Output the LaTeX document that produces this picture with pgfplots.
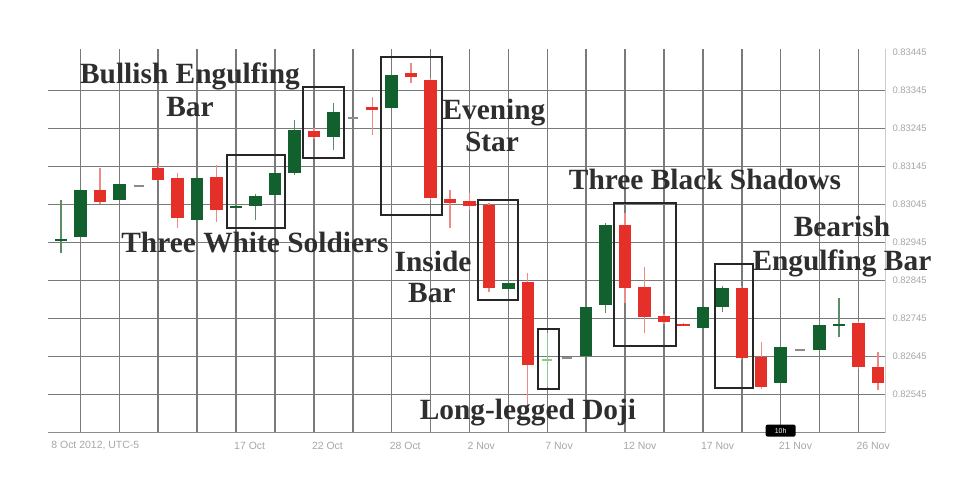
\documentclass[border=0pt]{standalone}
\usepackage{pgfplots}
\pgfplotsset{compat=1.18}
\usepackage{pgfplotstable}
\usepackage{fontspec}
\setmainfont{Liberation Serif}
\newfontfamily\sansf{Liberation Sans}
\definecolor{cgreen}{HTML}{12602D}
\definecolor{cgreenw}{HTML}{5E8C66}
\definecolor{cred}{HTML}{E5302A}
\definecolor{credw}{HTML}{F08A86}
\definecolor{cgray}{HTML}{8C8C8C}
\definecolor{clgreen}{HTML}{8CCB8C}
\newcommand\annfont{\bfseries\fontsize{29.5}{33}\selectfont}

\pgfplotstableread{
x o h l c
0 5.039 6.118 4.724 5.092
1 5.145 6.434 5.092 6.382
3 6.118 6.566 6.092 6.539
7 5.592 6.750 5.539 6.697
9 5.908 6.013 5.855 5.961
10 5.961 6.276 5.592 6.224
11 6.250 6.855 6.197 6.829
12 6.829 8.224 6.776 7.961
14 7.776 8.671 7.434 8.434
17 8.539 9.461 8.487 9.408
23 3.776 3.987 3.724 3.934
27 2.013 3.355 1.987 3.303
28 3.355 5.513 3.145 5.461
33 2.750 3.355 2.697 3.303
34 3.303 3.855 3.171 3.803
37 1.303 2.303 1.250 2.250
39 2.171 2.882 2.118 2.829
40 2.803 3.539 2.513 2.855
}\greendata

\pgfplotstableread{
x o h l c
2 6.382 6.961 6.013 6.066
5 6.961 7.092 6.618 6.645
6 6.697 6.829 5.382 5.645
8 6.724 7.039 5.539 5.855
13 7.934 8.013 7.724 7.776
16 8.566 8.829 7.829 8.487
18 9.461 9.724 9.197 9.355
19 9.276 9.329 6.118 6.171
20 6.145 6.382 5.382 6.039
21 6.092 6.303 5.855 5.961
22 5.987 6.039 3.697 3.803
24 3.961 4.197 0.671 1.776
29 5.461 5.776 3.408 3.803
30 3.829 4.355 2.618 3.039
31 3.066 3.118 2.855 2.908
32 2.850 2.870 2.790 2.790
35 3.803 3.855 1.908 1.961
36 1.987 2.382 1.145 1.197
41 2.882 2.934 1.671 1.724
42 1.724 2.118 1.118 1.303
}\reddata

\pgfplotstableread{
x o h l c
4 6.460 6.520 6.460 6.520
15 8.250 8.310 8.250 8.310
26 1.930 1.990 1.930 1.990
38 2.140 2.200 2.140 2.200
}\graydata

\pgfplotstableread{
x o h l c
25 1.882 2.618 1.197 1.934
}\lgreendata

\begin{document}
\begin{tikzpicture}
\path[use as bounding box] (0,0) rectangle (964bp,486bp);
\begin{axis}[
  at={(48bp,53.5bp)}, anchor=south west,
  scale only axis, width=837bp, height=383.8bp,
  xmin=-0.668, xmax=42.365, ymin=0, ymax=10.1,
  axis x line*=bottom, axis y line*=right,
  x axis line style={draw=black!45, line width=1.3bp},
  y axis line style={draw=black!20, line width=1bp},
  xtick={1,3,...,41}, xticklabels={},
  ytick={1,...,9},
  yticklabels={0.82545,0.82645,0.82745,0.82845,0.82945,0.83045,0.83145,0.83245,0.83345},
  extra y ticks={10}, extra y tick labels={0.83445},
  extra y tick style={grid=none},
  grid=major,
  major grid style={draw=black!52, line width=1.5bp},
  major tick length=0pt,
  tick style={draw=none},
  extra x ticks={-0.4,9,13,17,21,25,29,33,37,41},
  extra x tick labels={{8 Oct 2012, UTC-5},17 Oct,22 Oct,28 Oct,2 Nov,7 Nov,12 Nov,17 Nov,21 Nov,26 Nov},
  extra x tick style={grid=none, xticklabel style={anchor=west, yshift=-13bp, xshift=-2bp, inner sep=0pt}},
  xticklabel style={font=\sansf\fontsize{10.5}{12}\selectfont, text=black!35},
  yticklabel style={font=\sansf\fontsize{9.5}{11}\selectfont, text=black!35, anchor=west, xshift=4bp},
  clip=false,
]
% wicks
\addplot[draw=none, mark=none, forget plot, error bars/.cd, y dir=both, y explicit, error mark=none,
  error bar style={line width=1.3bp, draw=cgreenw}]
  table[x=x, y expr={(\thisrow{h}+\thisrow{l})/2}, y error expr={(\thisrow{h}-\thisrow{l})/2}] {\greendata};
\addplot[draw=none, mark=none, forget plot, error bars/.cd, y dir=both, y explicit, error mark=none,
  error bar style={line width=1.3bp, draw=credw}]
  table[x=x, y expr={(\thisrow{h}+\thisrow{l})/2}, y error expr={(\thisrow{h}-\thisrow{l})/2}] {\reddata};
\addplot[draw=none, mark=none, forget plot, error bars/.cd, y dir=both, y explicit, error mark=none,
  error bar style={line width=1.3bp, draw=clgreen}]
  table[x=x, y expr={(\thisrow{h}+\thisrow{l})/2}, y error expr={(\thisrow{h}-\thisrow{l})/2}] {\lgreendata};
% bodies
\addplot[draw=none, mark=none, forget plot, error bars/.cd, y dir=both, y explicit, error mark=none,
  error bar style={line width=12.5bp, line cap=butt, draw=cgreen}]
  table[x=x, y expr={(\thisrow{o}+\thisrow{c})/2}, y error expr={abs(\thisrow{c}-\thisrow{o})/2}] {\greendata};
\addplot[draw=none, mark=none, forget plot, error bars/.cd, y dir=both, y explicit, error mark=none,
  error bar style={line width=12.5bp, line cap=butt, draw=cred}]
  table[x=x, y expr={(\thisrow{o}+\thisrow{c})/2}, y error expr={abs(\thisrow{c}-\thisrow{o})/2}] {\reddata};
\addplot[draw=none, mark=none, forget plot, error bars/.cd, y dir=both, y explicit, error mark=none,
  error bar style={line width=10bp, line cap=butt, draw=cgray}]
  table[x=x, y expr={(\thisrow{o}+\thisrow{c})/2}, y error expr={abs(\thisrow{c}-\thisrow{o})/2}] {\graydata};
\addplot[draw=none, mark=none, forget plot, error bars/.cd, y dir=both, y explicit, error mark=none,
  error bar style={line width=10bp, line cap=butt, draw=clgreen}]
  table[x=x, y expr={(\thisrow{o}+\thisrow{c})/2}, y error expr={abs(\thisrow{c}-\thisrow{o})/2}] {\lgreendata};

% pattern boxes
\draw[line width=2.2bp, black!85] (axis cs:8.535,5.382) rectangle (axis cs:11.517,7.303);
\draw[line width=2.2bp, black!85] (axis cs:12.44,7.224) rectangle (axis cs:14.55,9.092);
\draw[line width=2.2bp, black!85] (axis cs:16.45,5.724) rectangle (axis cs:19.59,9.882);
\draw[line width=2.2bp, black!85] (axis cs:21.44,3.487) rectangle (axis cs:23.50,6.118);
\draw[line width=2.2bp, black!85] (axis cs:24.52,1.145) rectangle (axis cs:25.60,2.724);
\draw[line width=2.2bp, black!85] (axis cs:28.43,2.276) rectangle (axis cs:31.62,6.039);
\draw[line width=2.2bp, black!85] (axis cs:33.62,1.171) rectangle (axis cs:35.58,4.434);

% labels
\begin{scope}[every node/.style={anchor=base, font=\annfont, text=black!82, inner sep=0pt}]
\node at (axis cs:6.632,9.197) {Bullish Engulfing};
\node at (axis cs:6.632,8.303) {Bar};
\node at (axis cs:9.974,4.724) {Three White Soldiers};
\node at (axis cs:22.26,8.224) {Evening};
\node at (axis cs:22.16,7.382) {Star};
\node at (axis cs:19.13,4.224) {Inside};
\node at (axis cs:19.07,3.408) {Bar};
\node at (axis cs:24.01,0.329) {Long-legged Doji};
\node at (axis cs:33.11,6.382) {Three Black Shadows};
\node at (axis cs:40.15,5.145) {Bearish};
\node at (axis cs:40.15,4.276) {Engulfing Bar};
\end{scope}
\node[fill=black, rounded corners=2bp, text=white, font=\sansf\fontsize{7}{8}\selectfont,
  minimum width=30bp, minimum height=12bp, inner sep=1bp] at (axis cs:37,0.05) {10h};
\end{axis}
\end{tikzpicture}
\end{document}
